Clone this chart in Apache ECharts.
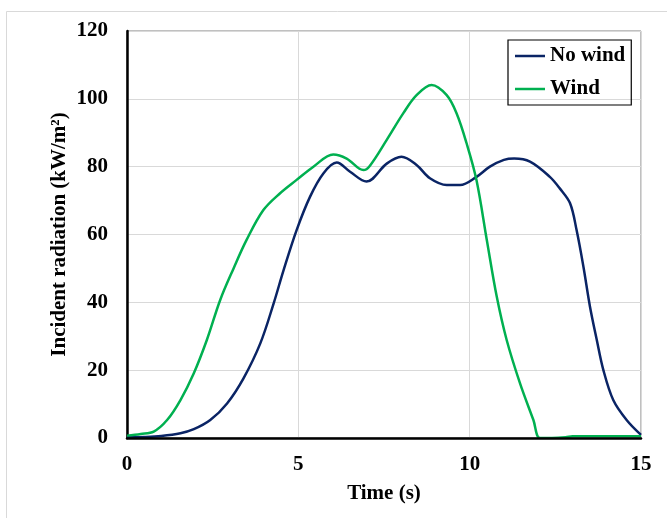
<!DOCTYPE html>
<html>
<head>
<meta charset="utf-8">
<script src="https://cdn.jsdelivr.net/npm/echarts@6/dist/echarts.min.js"></script>
<style>html,body{margin:0;padding:0;background:#fff;}#c{width:667px;height:518px;}</style>
</head>
<body>
<div id="c"></div>
<script>
var xTicks = [0, 5, 10, 15];
var yTicks = [0, 20, 40, 60, 80, 100, 120];
var seriesNames = ['No wind', 'Wind'];
var timeNoWind = [0, 0.5, 1.0, 1.56, 1.95, 2.43, 2.92, 3.4, 3.89, 4.28, 4.57, 4.95, 5.34, 5.73, 6.12, 6.51, 6.99, 7.58, 8.01, 8.45, 8.84, 9.33, 9.72, 10.2, 10.59, 11.0, 11.3, 11.76, 12.34, 12.63, 12.93, 13.12, 13.32, 13.51, 13.71, 13.9, 14.19, 14.58, 15];
var noWind = [0.2, 0.3, 0.6, 1.4, 2.6, 5.3, 10.2, 17.6, 27.9, 39.7, 49.5, 61.3, 71.1, 78, 81.2, 78.5, 75.6, 80.9, 82.9, 80.5, 76.6, 74.6, 74.6, 77, 80, 82, 82.4, 81.5, 77, 73.6, 69.2, 61.3, 50.5, 38.8, 28.9, 20.1, 11.2, 5.3, 0.9];
var timeWind = [0, 0.4, 0.78, 1.17, 1.56, 1.95, 2.33, 2.72, 3.11, 3.49, 3.98, 4.46, 4.95, 5.44, 6.02, 6.41, 6.9, 7.09, 7.58, 8.06, 8.45, 8.89, 9.33, 9.62, 9.91, 10.2, 10.5, 10.79, 11.08, 11.47, 11.86, 12.05, 12.4, 12.8, 13.0, 14, 15];
var wind = [0.7, 1.2, 1.9, 5.3, 11.2, 19.1, 28.9, 40.7, 50, 58.4, 67.2, 72.1, 76.1, 80, 83.6, 82.4, 79, 80.3, 87.9, 95.7, 101.1, 104.1, 101.1, 95.7, 86.9, 76, 58.4, 41.7, 28.9, 16.1, 5.3, 0, 0, 0.2, 0.5, 0.5, 0.5];

function pairs(xs, ys) { return xs.map(function (x, i) { return [x, ys[i]]; }); }

var font = 'Liberation Serif, Times New Roman, serif';
var chart = echarts.init(document.getElementById('c'), null, {renderer: 'canvas'});
chart.setOption({
  animation: false,
  backgroundColor: '#fff',
  graphic: [{
    type: 'rect', shape: {x: 6.5, y: 11.5, width: 700, height: 600},
    style: {fill: 'none', stroke: '#d9d9d9', lineWidth: 1}, z: -10
  }],
  grid: {left: 127, right: 26, top: 31, bottom: 80, show: true, borderColor: '#808080', borderWidth: 1, backgroundColor: 'transparent'},
  legend: {
    data: seriesNames,
    orient: 'vertical', left: 508, top: 40,
    padding: [5, 6, 5, 7],
    itemGap: 11, itemWidth: 30, itemHeight: 2.5, icon: 'rect',
    borderColor: '#000', borderWidth: 1.2,
    textStyle: {fontFamily: font, fontWeight: 'bold', fontSize: 21, color: '#000', lineHeight: 22}
  },
  xAxis: [{
    type: 'value', min: xTicks[0], max: xTicks[xTicks.length - 1], interval: 5,
    name: 'Time (s)', nameLocation: 'middle', nameGap: 45,
    nameTextStyle: {fontFamily: font, fontWeight: 'bold', fontSize: 21, color: '#000'},
    axisLine: {show: false}, axisTick: {show: false},
    axisLabel: {fontFamily: font, fontWeight: 'bold', fontSize: 21, color: '#000', margin: 16},
    splitLine: {show: true, lineStyle: {color: '#d9d9d9', width: 1}}
  }, {
    type: 'value', min: xTicks[0], max: xTicks[xTicks.length - 1], position: 'bottom', z: 10,
    axisLine: {show: true, onZero: false, lineStyle: {color: '#000', width: 2.5}},
    axisTick: {show: false}, axisLabel: {show: false}, splitLine: {show: false}
  }],
  yAxis: {
    type: 'value', min: yTicks[0], max: yTicks[yTicks.length - 1], interval: 20,
    name: 'Incident radiation (kW/m²)', nameLocation: 'middle', nameGap: 57, nameRotate: 90,
    nameMoveOverlap: false,
    nameTextStyle: {fontFamily: font, fontWeight: 'bold', fontSize: 21, color: '#000'},
    axisLine: {show: true, lineStyle: {color: '#000', width: 2.5}}, axisTick: {show: false},
    axisLabel: {fontFamily: font, fontWeight: 'bold', fontSize: 21, color: '#000', margin: 19},
    splitLine: {show: true, lineStyle: {color: '#d9d9d9', width: 1}}
  },
  series: [{
    name: seriesNames[0], type: 'line', xAxisIndex: 0, data: pairs(timeNoWind, noWind),
    smooth: 0.35, showSymbol: false, symbol: 'none',
    lineStyle: {color: '#0a2465', width: 2.5}, itemStyle: {color: '#0a2465'}
  }, {
    name: seriesNames[1], type: 'line', xAxisIndex: 0, data: pairs(timeWind, wind),
    smooth: 0.35, showSymbol: false, symbol: 'none',
    lineStyle: {color: '#00b050', width: 2.5}, itemStyle: {color: '#00b050'}
  }]
});
</script>
</body>
</html>
